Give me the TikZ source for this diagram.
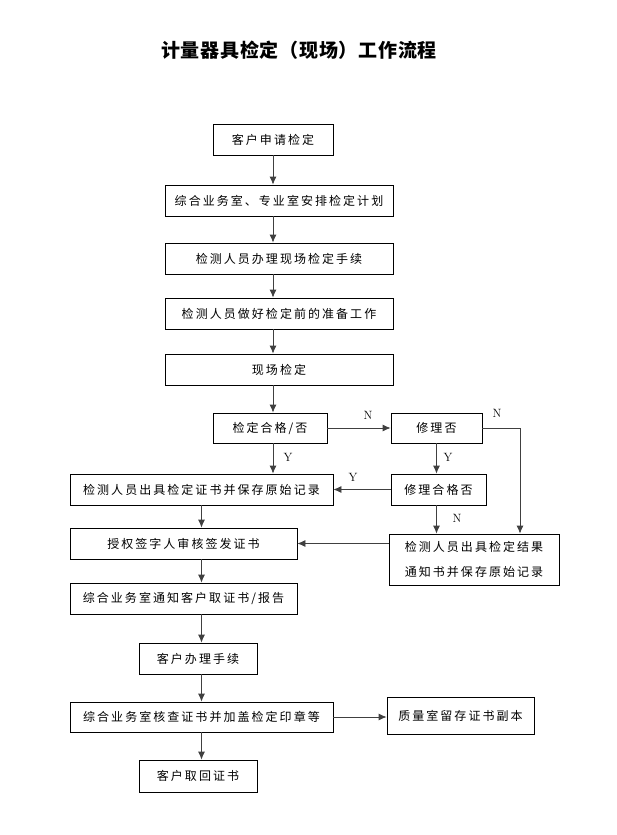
\documentclass[tikz,border=0pt]{standalone}
\usepackage{fontspec}
\newfontfamily\cjk[LetterSpace=17]{Noto Sans CJK SC}
\newfontfamily\titolo[LetterSpace=4]{Noto Sans CJK SC}
\usetikzlibrary{arrows.meta}
\tikzstyle{fase} = [rectangle, draw=black, line width=0.8pt, inner sep=0pt, text centered, font=\cjk\fontsize{12}{14}\selectfont]
\tikzstyle{esito} = [inner sep=0pt, font=\fontsize{12}{14}\selectfont]
\tikzstyle{arrow} = [line width=0.8pt, draw=black!75, -{Latex[length=8pt,width=7pt]}]
\begin{document}
\begin{tikzpicture}[x=1pt,y=-1pt]
\useasboundingbox (0,0) rectangle (617,835);
\node (titolo) at (299,50) [font=\titolo\bfseries\fontsize{19}{21}\selectfont] {计量器具检定（现场）工作流程};
% colonna principale
\node (cliente) at (273,139.5) [fase, minimum width=120pt, minimum height=31pt] {客户申请检定};
\node (piano) at (279,200.5) [fase, minimum width=228pt, minimum height=31pt] {综合业务室、专业室安排检定计划};
\node (pratiche) at (279,258.5) [fase, minimum width=228pt, minimum height=31pt] {检测人员办理现场检定手续};
\node (prepara) at (279,313.5) [fase, minimum width=228pt, minimum height=31pt] {检测人员做好检定前的准备工作};
\node (campo) at (279,369.5) [fase, minimum width=228pt, minimum height=31pt] {现场检定};
\node (esame) at (270,428) [fase, minimum width=114pt, minimum height=30pt] {检定合格/否};
\node (ripara) at (436.5,428) [fase, minimum width=91pt, minimum height=30pt] {修理否};
\node (certif) at (201.5,489.5) [fase, minimum width=263pt, minimum height=31pt] {检测人员出具检定证书并保存原始记录};
\node (riparok) at (438.5,489.5) [fase, minimum width=95pt, minimum height=31pt] {修理合格否};
\node (firma) at (183.5,543.5) [fase, minimum width=227pt, minimum height=31pt] {授权签字人审核签发证书};
\node (notifica) at (474,559.5) [fase, minimum width=170pt, minimum height=51pt, align=center, font=\cjk\fontsize{12}{25}\selectfont] {检测人员出具检定结果\\通知书并保存原始记录};
\node (avviso) at (183.5,598.5) [fase, minimum width=227pt, minimum height=31pt] {综合业务室通知客户取证书/报告};
\node (pratica) at (198,658.5) [fase, minimum width=118pt, minimum height=31pt] {客户办理手续};
\node (timbro) at (201.5,717) [fase, minimum width=263pt, minimum height=30pt] {综合业务室核查证书并加盖检定印章等};
\node (copia) at (460.5,715.5) [fase, minimum width=147pt, minimum height=37pt] {质量室留存证书副本};
\node (ritiro) at (198,776) [fase, minimum width=118pt, minimum height=32pt] {客户取回证书};
\coordinate (angolo) at (520,428);
% frecce
\draw[arrow] (cliente) -- (cliente |- piano.north);
\draw[arrow] (piano.south -| cliente) -- (pratiche.north -| cliente);
\draw[arrow] (pratiche.south -| cliente) -- (prepara.north -| cliente);
\draw[arrow] (prepara.south -| cliente) -- (campo.north -| cliente);
\draw[arrow] (campo.south -| cliente) -- (esame.north -| cliente);
\draw[arrow] (esame.south -| cliente) -- (certif.north -| cliente);
\draw[arrow] (esame.east) -- (ripara.west);
\draw[arrow] (ripara.east) -- (angolo) -- (angolo |- notifica.north);
\draw[arrow] (ripara.south) -- (ripara.south |- riparok.north);
\draw[arrow] (riparok.west) -- (certif.east);
\draw[arrow] (riparok.south -| ripara) -- (notifica.north -| ripara);
\draw[arrow] (notifica.west |- firma) -- (firma.east);
\draw[arrow] (certif.south) -- (certif.south |- firma.north);
\draw[arrow] (firma.south -| certif) -- (avviso.north -| certif);
\draw[arrow] (avviso.south -| certif) -- (pratica.north -| certif);
\draw[arrow] (pratica.south -| certif) -- (timbro.north -| certif);
\draw[arrow] (timbro.south -| certif) -- (ritiro.north -| certif);
\draw[arrow] (timbro.east) -- (timbro.east -| copia.west);
% etichette
\node (y1) at (288,457) [esito] {Y};
\node (n1) at (368,415) [esito] {N};
\node (n2) at (497,413) [esito] {N};
\node (y2) at (448,457) [esito] {Y};
\node (y3) at (353,477) [esito] {Y};
\node (n3) at (457,518) [esito] {N};
\end{tikzpicture}
\end{document}
